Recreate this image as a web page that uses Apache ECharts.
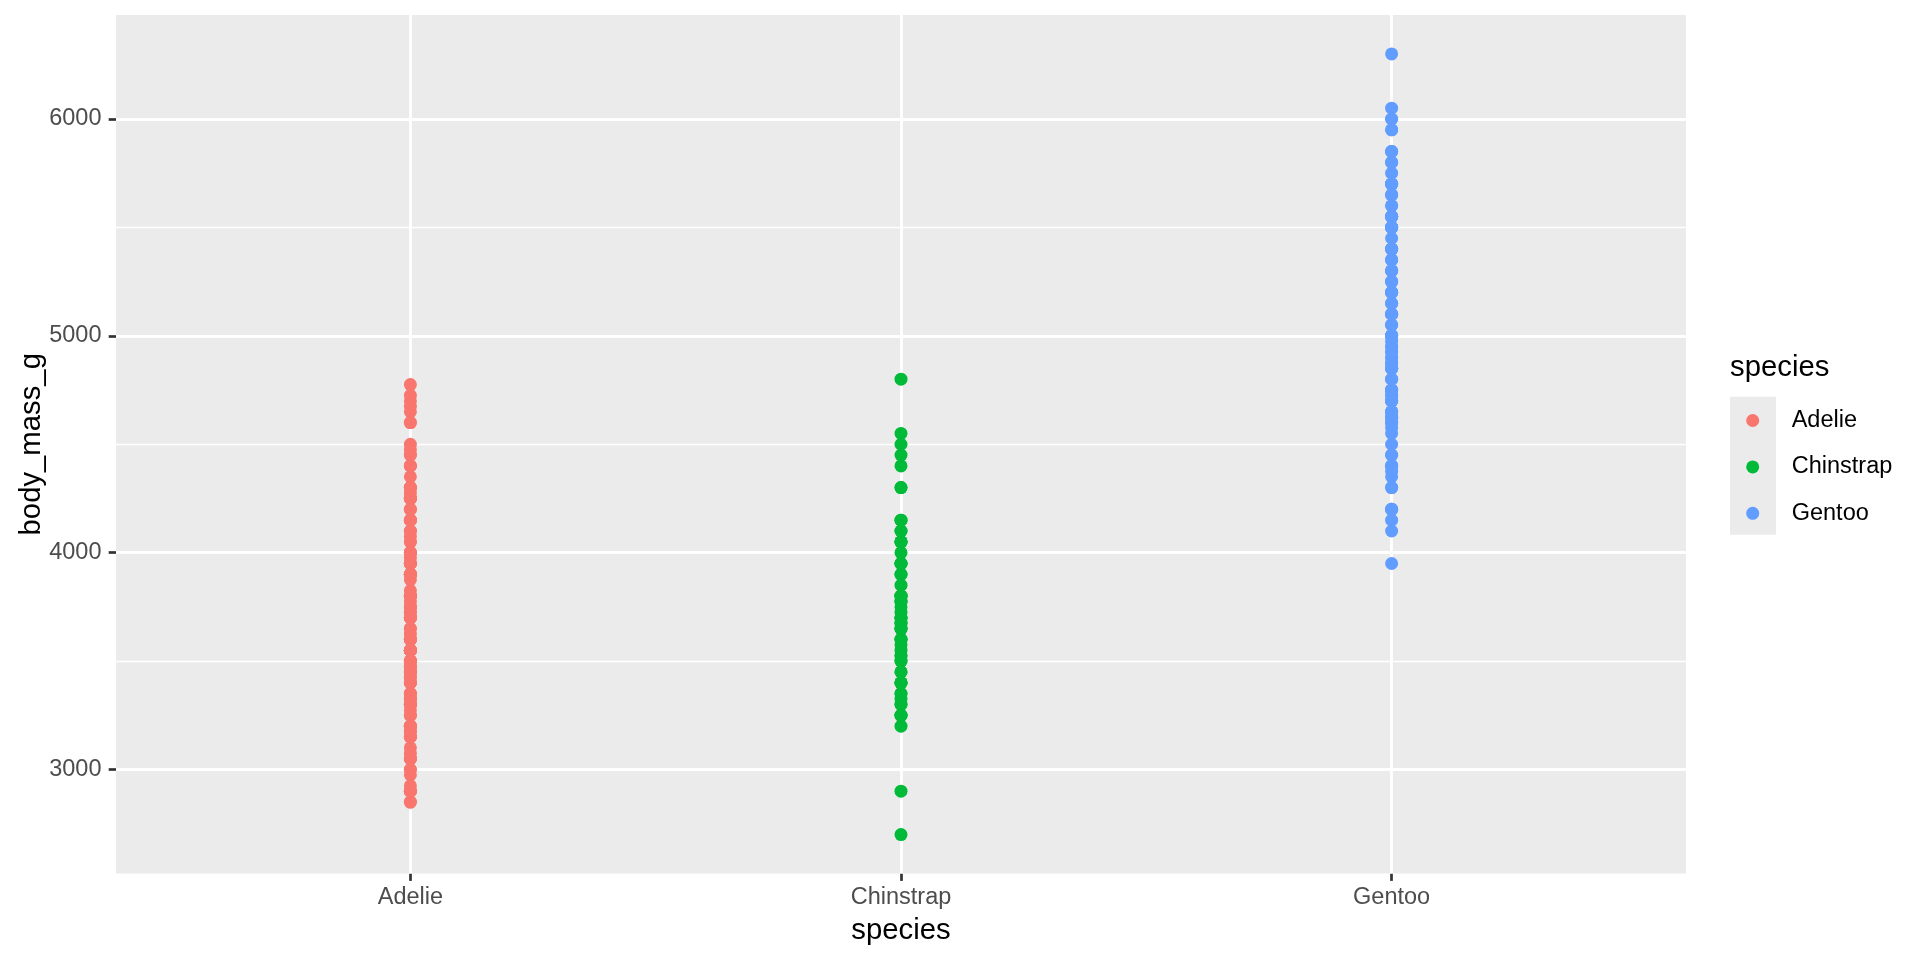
<!DOCTYPE html>
<html>
<head>
<meta charset="utf-8">
<script src="https://cdn.jsdelivr.net/npm/echarts@6/dist/echarts.min.js"></script>
<style>
  html, body { margin: 0; padding: 0; background: #ffffff; }
  #chart { width: 1920px; height: 960px; }
</style>
</head>
<body>
<div id="chart"></div>
<script>
// ---- Data (Palmer penguins body mass, g) ----
const categories = ['Adelie', 'Chinstrap', 'Gentoo'];
const yTickValues = [3000, 4000, 5000, 6000];
const yMinorValues = [3500, 4500, 5500];

const adelieMass = [3750, 3800, 3250, 3450, 3650, 3625, 4675, 3475, 4250, 3300, 3700, 3200, 3800, 4400, 3700, 3450,
  4500, 3325, 4200, 3400, 3600, 3800, 3950, 3800, 3800, 3550, 3200, 3150, 3950, 3250, 3900, 3300, 3900, 3325, 4150,
  3950, 3550, 3300, 4650, 3150, 3900, 3100, 4400, 3000, 4600, 3425, 2975, 3450, 4150, 3500, 4300, 3450, 4050, 2900,
  3700, 3550, 3800, 2850, 3750, 3150, 4400, 3600, 4050, 2850, 3950, 3350, 4100, 3050, 4450, 3600, 3900, 3550, 4150,
  3700, 4250, 3700, 3900, 3550, 4000, 3200, 4700, 3800, 4200, 3350, 3550, 3800, 3500, 3950, 3600, 3550, 4300, 3400,
  4450, 3300, 4300, 3700, 4350, 2900, 4100, 3725, 4725, 3075, 4250, 2925, 3550, 3750, 3900, 3175, 4775, 3825, 4600,
  3200, 4275, 3900, 4075, 2900, 3775, 3350, 3325, 3150, 3500, 3450, 3875, 3050, 4000, 3275, 4300, 3050, 4000, 3325,
  3500, 3500, 4475, 3425, 3900, 3175, 3975, 3400, 4250, 3400, 3475, 3050, 3725, 3000, 3650, 4250, 3475, 3450, 3750,
  3700, 4000];

const chinstrapMass = [3500, 3900, 3650, 3525, 3725, 3950, 3250, 3750, 4150, 3700, 3800, 3775, 3700, 4050, 3575, 4050,
  3300, 3700, 3450, 4400, 3600, 3400, 2900, 3800, 3300, 4150, 3400, 3800, 3700, 4550, 3200, 4300, 3350, 4100, 3600,
  3900, 3850, 4800, 2700, 4500, 3950, 3650, 3550, 3500, 3675, 4450, 3400, 4300, 3250, 3675, 3325, 3950, 3600, 4050,
  3350, 3450, 3250, 4050, 3800, 3525, 3950, 3650, 3650, 4000, 3400, 3775, 4100, 3775];

const gentooMass = [4500, 5700, 4450, 5700, 5400, 4550, 4800, 5200, 4400, 5150, 4650, 5550, 4650, 5850, 4200, 5850,
  4150, 6300, 4800, 5350, 5700, 5000, 4400, 5050, 5000, 5100, 4100, 5650, 4600, 5550, 5250, 4700, 5050, 6050, 5150,
  5400, 4950, 5250, 4350, 5350, 3950, 5700, 4300, 4750, 5550, 4900, 4200, 5400, 5100, 5300, 4850, 5300, 4400, 5000,
  4900, 5050, 4300, 5000, 4450, 5550, 4200, 5300, 4400, 5650, 4700, 5700, 4650, 5800, 4700, 5550, 4750, 5000, 5100,
  5200, 4700, 5800, 4600, 6000, 4750, 5950, 4625, 5450, 4725, 5350, 4750, 5600, 4600, 5300, 4875, 5550, 4950, 5400,
  4750, 5650, 4850, 5200, 4925, 4875, 4625, 5250, 4850, 5600, 4975, 5500, 4725, 5500, 4700, 5500, 4575, 5500, 5000,
  5950, 4650, 5500, 4375, 5850, 4875, 6000, 4925, 4850, 5750, 5200, 5400];

const seriesValues = [adelieMass, chinstrapMass, gentooMass];
const colors = ['#F8766D', '#00BA38', '#619CFF'];

// ---- Chart ----
const FONT = '"Liberation Sans", Arial, Helvetica, sans-serif';
const chart = echarts.init(document.getElementById('chart'), null, { renderer: 'canvas' });

const gridLines = [];
yTickValues.forEach(v => gridLines.push({ yAxis: v, lineStyle: { width: 2.8 } }));
yMinorValues.forEach(v => gridLines.push({ yAxis: v, lineStyle: { width: 1.4 } }));
categories.forEach((c, i) => gridLines.push({ xAxis: i + 1, lineStyle: { width: 2.8 } }));

const series = [{
  type: 'scatter',
  name: '__grid',
  data: [],
  silent: true,
  z: 1,
  markLine: {
    silent: true,
    z: 1,
    symbol: 'none',
    label: { show: false },
    emphasis: { disabled: true },
    animation: false,
    lineStyle: { color: '#FFFFFF', type: 'solid', width: 2.8 },
    data: gridLines
  }
}];
categories.forEach((c, i) => {
  series.push({
    type: 'scatter',
    name: c,
    z: 3,
    symbol: 'circle',
    symbolSize: 13,
    itemStyle: { color: colors[i], opacity: 1 },
    emphasis: { disabled: true },
    data: seriesValues[i].map(v => [i + 1, v])
  });
});

const option = {
  animation: false,
  backgroundColor: '#FFFFFF',
  textStyle: { fontFamily: FONT },
  grid: {
    left: 116, right: 234, top: 14.9, bottom: 86.4,
    outerBoundsMode: 'none',
    containLabel: false,
    show: true, backgroundColor: '#EBEBEB', borderWidth: 0
  },
  xAxis: {
    type: 'value',
    min: 0.4, max: 3.6,
    name: 'species',
    nameLocation: 'middle',
    nameGap: 42.5,
    nameMoveOverlap: false,
    nameTextStyle: { fontSize: 29.3, color: '#000000', fontFamily: FONT },
    axisLine: { show: false },
    splitLine: { show: false },
    axisTick: {
      show: true, length: 7.3, customValues: [1, 2, 3],
      lineStyle: { color: '#333333', width: 2.7 }
    },
    axisLabel: {
      show: true, margin: 12, customValues: [1, 2, 3],
      fontSize: 23.5, color: '#4D4D4D', fontFamily: FONT,
      formatter: v => categories[Math.round(v) - 1] || ''
    }
  },
  yAxis: {
    type: 'value',
    min: 2520, max: 6480,
    name: 'body_mass_g',
    nameLocation: 'middle',
    nameGap: 69.5,
    nameMoveOverlap: false,
    nameTextStyle: { fontSize: 29.3, color: '#000000', fontFamily: FONT },
    axisLine: { show: false },
    splitLine: { show: false },
    axisTick: {
      show: true, length: 7.3, customValues: yTickValues,
      lineStyle: { color: '#333333', width: 2.7 }
    },
    axisLabel: {
      show: true, margin: 14.5, customValues: yTickValues,
      fontSize: 23.5, color: '#4D4D4D', fontFamily: FONT,
      formatter: v => String(v)
    }
  },
  legend: {
    data: categories,
    orient: 'vertical',
    left: 1746.2,
    top: 397.5,
    padding: 0,
    icon: 'circle',
    itemWidth: 13,
    itemHeight: 13,
    itemGap: 0.4,
    selectedMode: false,
    textStyle: { fontSize: 23.5, color: '#000000', fontFamily: FONT, lineHeight: 46, padding: [0, 0, 0, 27.5] }
  },
  graphic: [
    {
      type: 'rect', z: 0,
      shape: { x: 1730, y: 396.7, width: 46, height: 138 },
      style: { fill: '#EBEBEB' }
    },
    {
      type: 'text', z: 5,
      x: 1730, y: 368,
      style: { text: 'species', fontSize: 29.3, fontFamily: FONT, fill: '#000000', verticalAlign: 'middle', align: 'left' }
    }
  ],
  series: series
};
chart.setOption(option);
</script>
</body>
</html>
